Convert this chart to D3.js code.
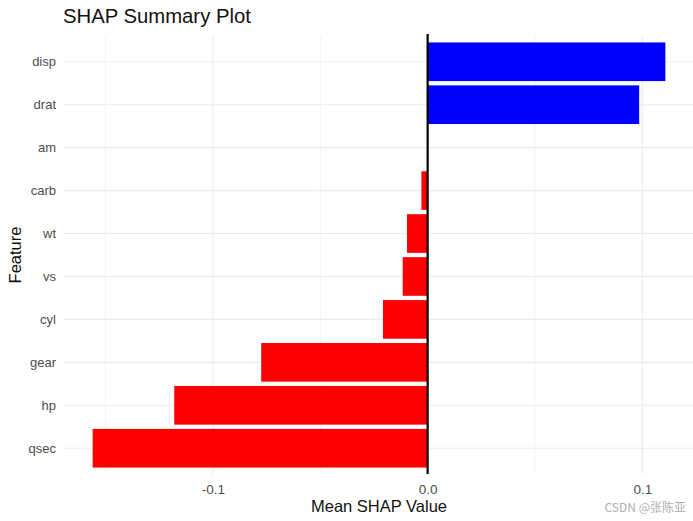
<!DOCTYPE html>
<html><head><meta charset="utf-8">
<script src="https://cdn.jsdelivr.net/npm/d3@7"></script>
<style>body{margin:0;background:#fff}svg{display:block;font-family:"Liberation Sans",Arial,sans-serif}</style>
</head><body><svg id="c" width="693" height="521"></svg>
<script>
const features = ["disp","drat","am","carb","wt","vs","cyl","gear","hp","qsec"];
const shapValues = [0.1107,0.0985,0,-0.0029,-0.0096,-0.0116,-0.0208,-0.0775,-0.118,-0.156];
const xMajorTicks = [-0.1,0,0.1];
const xMinorTicks = [-0.15,-0.05,0.05];
const xTickLabels = ["-0.1","0.0","0.1"];

const svg = d3.select("#c");
const L=64, R=694, T=36, B=474;
const lo=d3.min(shapValues), hi=d3.max(shapValues), pad=(hi-lo)*0.05;
const x=d3.scaleLinear().domain([lo-pad,hi+pad]).range([L,R]);
const step=(B-T)/(features.length-1+1.2);
const y=d3.scalePoint().domain(features).range([T+0.6*step,B-0.6*step]);
const bw=step*0.9;

const g=svg.append("g");
g.selectAll(".mn").data(xMinorTicks).join("line")
 .attr("x1",d=>x(d)).attr("x2",d=>x(d)).attr("y1",T).attr("y2",B)
 .attr("stroke","#f2f2f2").attr("stroke-width",1);
g.selectAll(".mj").data(xMajorTicks).join("line")
 .attr("x1",d=>x(d)).attr("x2",d=>x(d)).attr("y1",T).attr("y2",B)
 .attr("stroke","#ebebeb").attr("stroke-width",1.1);
g.selectAll(".hy").data(features).join("line")
 .attr("x1",L).attr("x2",R).attr("y1",d=>y(d)).attr("y2",d=>y(d))
 .attr("stroke","#ebebeb").attr("stroke-width",1.1);

g.selectAll(".bar").data(features.map((f,i)=>({f,v:shapValues[i]}))).join("rect")
 .attr("x",d=>Math.min(x(0),x(d.v))).attr("width",d=>Math.abs(x(d.v)-x(0)))
 .attr("y",d=>y(d.f)-bw/2).attr("height",bw)
 .attr("fill",d=>d.v>0?"#0000ff":"#ff0000");

g.append("line").attr("x1",x(0)).attr("x2",x(0)).attr("y1",T-2).attr("y2",B)
 .attr("stroke","#000").attr("stroke-width",2.2);

const yAxis=d3.axisLeft(y).tickSize(0).tickPadding(8);
const ya=svg.append("g").attr("transform",`translate(${L},0)`).call(yAxis);
ya.select(".domain").remove();
ya.selectAll("text").attr("fill","#4d4d4d").attr("font-size",13).attr("font-family","Liberation Sans, Arial, sans-serif");

const xAxis=d3.axisBottom(x).tickValues(xMajorTicks).tickFormat((d,i)=>xTickLabels[i]).tickSize(0).tickPadding(10);
const xa=svg.append("g").attr("transform",`translate(0,${B})`).call(xAxis);
xa.select(".domain").remove();
xa.selectAll("text").attr("fill","#4d4d4d").attr("font-size",13.5).attr("font-family","Liberation Sans, Arial, sans-serif");

svg.append("text").attr("x",(L+R)/2).attr("y",512).attr("text-anchor","middle")
 .attr("font-size",16.5).attr("fill","#111").text("Mean SHAP Value");
svg.append("text").attr("transform",`translate(21,${(T+B)/2}) rotate(-90)`).attr("text-anchor","middle")
 .attr("font-size",16.5).attr("fill","#111").text("Feature");
svg.append("text").attr("x",63).attr("y",23).attr("font-size",20.3).attr("fill","#111").text("SHAP Summary Plot");
svg.append("text").attr("x",686).attr("y",512).attr("text-anchor","end")
 .attr("font-size",12).attr("fill","#b0b0b0").attr("font-family","Noto Sans CJK SC, sans-serif").text("CSDN @张陈亚");
</script></body></html>
